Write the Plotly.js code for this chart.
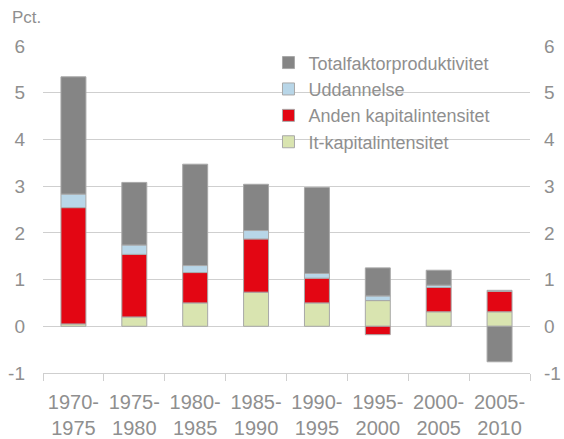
<!DOCTYPE html>
<html>
<head>
<meta charset="utf-8">
<script src="https://cdn.plot.ly/plotly-3.0.1.min.js"></script>
<style>html,body{margin:0;padding:0;background:#fff;}#chart{width:564px;height:439px;}</style>
</head>
<body>
<div id="chart"></div>
<script>
var categories = ["1970-<br>1975", "1975-<br>1980", "1980-<br>1985", "1985-<br>1990", "1990-<br>1995", "1995-<br>2000", "2000-<br>2005", "2005-<br>2010"];
var itKapital = [0.05, 0.20, 0.50, 0.73, 0.50, 0.55, 0.31, 0.31];
var andenKapital = [2.49, 1.34, 0.65, 1.14, 0.53, -0.18, 0.52, 0.44];
var uddannelse = [0.29, 0.20, 0.15, 0.18, 0.10, 0.10, 0.05, 0.02];
var tfp = [2.51, 1.34, 2.17, 0.99, 1.84, 0.60, 0.32, -0.76];
var yTicks = [-1, 0, 1, 2, 3, 4, 5, 6];
var yTickText = ["-1", "0", "1", "2", "3", "4", "5", "6"];

var font = "Liberation Sans, Arial, sans-serif";
var txt = "#8f8f8f";
var grid = "#cfcfcf";
var edge = {color: "#a8a8a8", width: 1};

function bar(name, y, color) {
  return {type: "bar", name: name, x: categories, y: y,
    marker: {color: color, line: edge}, hoverinfo: "name+y"};
}

var data = [
  bar("It-kapitalintensitet", itKapital, "#d9e4b0"),
  bar("Anden kapitalintensitet", andenKapital, "#e30613"),
  bar("Uddannelse", uddannelse, "#b8d6e8"),
  bar("Totalfaktorproduktivitet", tfp, "#858585"),
  // empty helper so the right-hand value axis is drawn
  {type: "scatter", x: [], y: [], yaxis: "y2", showlegend: false, hoverinfo: "skip"}
];

var layout = {
  width: 564, height: 439,
  margin: {l: 43, r: 34, t: 46, b: 66},
  paper_bgcolor: "#fff", plot_bgcolor: "#fff",
  barmode: "relative", bargap: 0.59,
  font: {family: font, color: txt, size: 19},
  showlegend: true,
  legend: {x: 0.463, xanchor: "left", y: 1.005, yanchor: "top",
    traceorder: "reversed", bgcolor: "rgba(0,0,0,0)",
    font: {family: font, size: 18, color: txt}, tracegroupgap: 0},
  xaxis: {type: "category", showgrid: false, showline: true, linecolor: grid, linewidth: 1,
    ticks: "outside", tickson: "boundaries", ticklen: 7, tickcolor: grid,
    ticklabelstandoff: 11,
    tickfont: {family: font, size: 20, color: txt}, fixedrange: true},
  yaxis: {range: [-1, 6], tickvals: yTicks, ticktext: yTickText, showgrid: true, gridcolor: grid,
    zeroline: true, zerolinecolor: grid, zerolinewidth: 1, showline: false,
    ticks: "", ticklabelstandoff: 17,
    tickfont: {family: font, size: 19, color: txt}, fixedrange: true},
  yaxis2: {range: [-1, 6], tickvals: yTicks, ticktext: yTickText, overlaying: "y", side: "right",
    showgrid: false, zeroline: false, showline: false, ticks: "", ticklabelstandoff: 13,
    tickfont: {family: font, size: 19, color: txt}, fixedrange: true},
  annotations: [{text: "Pct.", xref: "paper", yref: "paper", x: -0.068, y: 1.086,
    xanchor: "left", yanchor: "middle", showarrow: false,
    font: {family: font, size: 17, color: txt}}]
};

Plotly.newPlot("chart", data, layout, {displayModeBar: false, staticPlot: true});
</script>
</body>
</html>
